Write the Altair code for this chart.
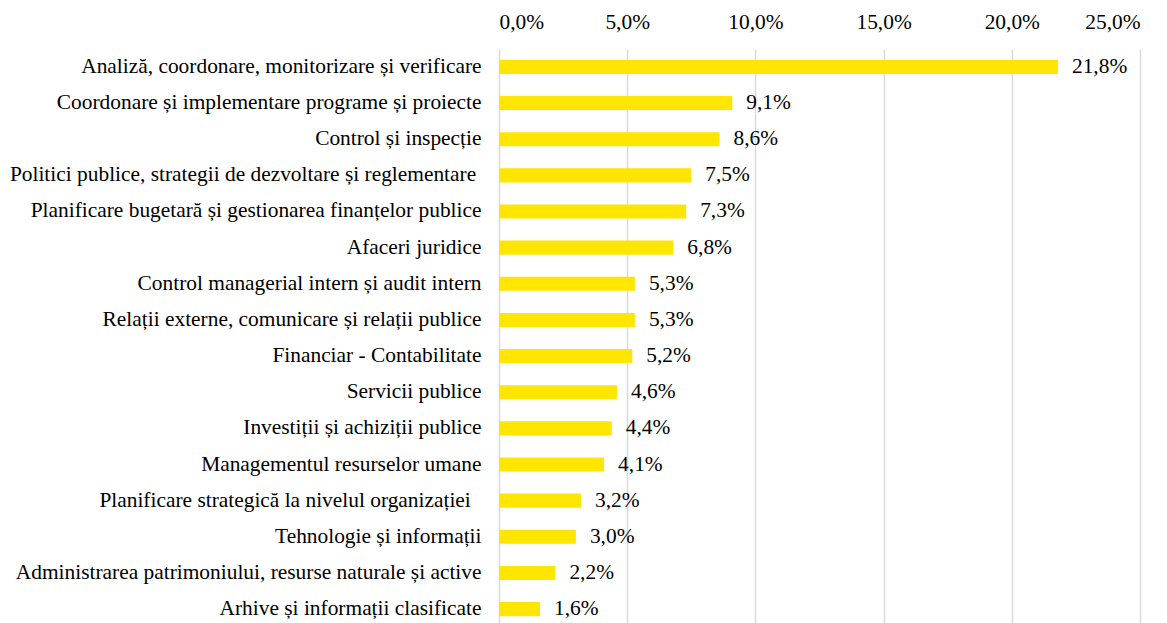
import altair as alt
import pandas as pd

categories = [
    "Analiză, coordonare, monitorizare și verificare",
    "Coordonare și implementare programe și proiecte",
    "Control și inspecție",
    "Politici publice, strategii de dezvoltare și reglementare\u00a0\u200b",
    "Planificare bugetară și gestionarea finanțelor publice",
    "Afaceri juridice",
    "Control managerial intern și audit intern",
    "Relații externe, comunicare și relații publice",
    "Financiar - Contabilitate",
    "Servicii publice",
    "Investiții și achiziții publice",
    "Managementul resurselor umane",
    "Planificare strategică la nivelul organizației\u00a0\u00a0\u200b",
    "Tehnologie și informații",
    "Administrarea patrimoniului, resurse naturale și active",
    "Arhive și informații clasificate",
]
values = [21.8, 9.1, 8.6, 7.5, 7.3, 6.8, 5.3, 5.3, 5.2, 4.6, 4.4, 4.1, 3.2, 3.0, 2.2, 1.6]
x_ticks = [0, 5, 10, 15, 20, 25]

df = pd.DataFrame({"cat": categories, "val": values})
df["lab"] = [f"{v:.1f}".replace(".", ",") + "%" for v in values]

FONT = "Liberation Serif"
FS = 21.4

y_enc = alt.Y("cat:N", sort=categories, title=None,
              scale=alt.Scale(paddingInner=0.61, paddingOuter=0.3),
              axis=alt.Axis(labelFont=FONT, labelFontSize=FS, labelColor="#000000",
                            ticks=False, domain=False, labelPadding=18, labelLimit=600))
x_enc = alt.X("val:Q", title=None,
              scale=alt.Scale(domain=[0, 25], nice=False),
              axis=alt.Axis(orient="top", values=x_ticks,
                            labelExpr="replace(format(datum.value, '.1f'), '.', ',') + '%'",
                            labelFont=FONT, labelFontSize=FS, labelColor="#000000",
                            ticks=False, domain=False, labelPadding=17,
                            grid=True, gridColor="#d9d9d9", gridWidth=1.5))

bars = alt.Chart(df).mark_bar(color="#FFE600").encode(x=x_enc, y=y_enc)
text = alt.Chart(df).mark_text(align="left", baseline="middle", dx=14, font=FONT,
                               fontSize=FS, color="#000000").encode(
    x="val:Q", y=alt.Y("cat:N", sort=categories), text="lab:N")

chart = (bars + text).properties(
    width=641, height=578,
    autosize=alt.AutoSizeParams(type="none"),
    padding={"left": 491, "top": 41, "right": 10, "bottom": 0},
).configure_view(stroke=None)

chart.save("out.html", embed_options={"renderer": "svg", "actions": False})
